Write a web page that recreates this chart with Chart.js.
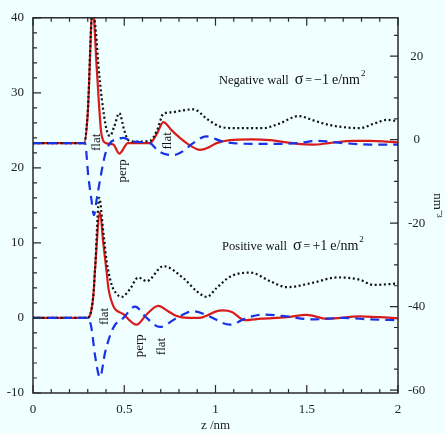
<!DOCTYPE html>
<html><head><meta charset="utf-8">
<script src="https://cdn.jsdelivr.net/npm/chart.js@4"></script>
<style>html,body{margin:0;padding:0;background:#f0ffff;}canvas{display:block}</style>
</head><body>
<canvas id="c" width="445" height="433"></canvas>
<script>
// ---- Negative wall (upper group, offset baseline) ----
const negRedX   = [0, 0.28, 0.30, 0.327, 0.35, 0.375, 0.40, 0.44, 0.473, 0.52, 0.64, 0.68, 0.714, 0.76, 0.805, 0.86, 0.915, 0.96, 1.006, 1.08, 1.2, 1.3, 1.39, 1.45, 1.536, 1.62, 1.755, 1.85, 1.94, 2.0];
const negRedY   = [23.3, 23.3, 27.2, 41.5, 33, 24.5, 23.3, 23.1, 21.9, 23.3, 23.3, 24.6, 26.1, 25.0, 24.0, 23.0, 22.4, 22.7, 23.3, 23.7, 23.8, 23.7, 23.4, 23.2, 23.1, 23.3, 23.6, 23.6, 23.5, 23.4];
const negBlueX  = [0, 0.285, 0.303, 0.32, 0.334, 0.349, 0.371, 0.395, 0.422, 0.46, 0.495, 0.55, 0.64, 0.685, 0.73, 0.768, 0.82, 0.877, 0.95, 1.04, 1.2, 1.35, 1.45, 1.56, 1.7, 1.85, 2.0];
const negBlueY  = [23.3, 23.3, 18.9, 15.8, 13.7, 15.8, 18.9, 21.75, 23.3, 23.8, 24.0, 23.5, 23.3, 22.3, 21.8, 21.7, 22.2, 23.3, 24.2, 23.5, 23.2, 23.2, 23.3, 23.6, 23.3, 23.1, 23.1];
const negBlackX = [0, 0.28, 0.30, 0.327, 0.345, 0.358, 0.376, 0.404, 0.422, 0.445, 0.473, 0.50, 0.522, 0.56, 0.64, 0.68, 0.714, 0.76, 0.805, 0.878, 0.96, 1.025, 1.1, 1.262, 1.35, 1.454, 1.54, 1.627, 1.79, 1.87, 1.94, 2.0];
const negBlackY = [23.3, 23.3, 27.5, 41.5, 38, 33.8, 29.4, 25.0, 24.25, 25.5, 27.3, 25.0, 23.7, 23.5, 23.6, 25.0, 27.2, 27.4, 27.6, 27.8, 26.4, 25.5, 25.3, 25.3, 25.9, 26.9, 26.3, 25.7, 25.3, 25.9, 26.4, 26.2];

// ---- Positive wall (lower group) ----
const posRedX   = [0, 0.298, 0.33, 0.34, 0.367, 0.385, 0.404, 0.413, 0.44, 0.495, 0.568, 0.623, 0.687, 0.74, 0.787, 0.85, 0.915, 0.96, 1.0, 1.04, 1.09, 1.16, 1.25, 1.39, 1.5, 1.61, 1.79, 1.9, 2.0];
const posRedY   = [0, 0, 2.8, 6.5, 14.1, 10, 6.0, 4.0, 1.6, 0.5, -0.9, 0.5, 1.6, 0.9, 0.25, 0, 0, 0.4, 0.85, 1.0, 0.8, -0.3, -0.1, 0.1, 0.4, -0.1, 0.2, 0.1, -0.05];
const posBlueX  = [0, 0.30, 0.32, 0.34, 0.367, 0.395, 0.44, 0.495, 0.559, 0.623, 0.696, 0.787, 0.878, 0.95, 1.08, 1.17, 1.26, 1.39, 1.53, 1.7, 1.85, 2.0];
const posBlueY  = [0, 0, -1.3, -5, -7.9, -4.6, -1.3, 0, 1.5, 0, -1.2, 0, 0.9, 0.4, -0.9, 0, 0.45, 0.2, -0.2, 0, -0.2, -0.3];
const posBlackX = [0, 0.298, 0.33, 0.34, 0.363, 0.385, 0.404, 0.43, 0.455, 0.486, 0.53, 0.577, 0.623, 0.714, 0.824, 0.9, 0.952, 1.006, 1.08, 1.19, 1.3, 1.39, 1.536, 1.664, 1.79, 1.865, 2.0];
const posBlackY = [0, 0, 2.8, 6.5, 16, 11.5, 7.5, 4.5, 3.3, 2.8, 3.8, 5.4, 4.9, 6.9, 5.3, 3.5, 2.8, 4.0, 5.5, 6.05, 4.9, 4.1, 4.7, 5.4, 5.1, 4.4, 4.6];

// ---- Ticks ----
const xTicks = [0, 0.5, 1, 1.5, 2];
const yLeftTicks = [-10, 0, 10, 20, 30, 40];
const yRightTicks = [-60, -40, -20, 0, 20];
const xMinorStep = 0.1, yLeftMinorStep = 2, yRightMinorStep = 5;

// ---- Text annotations ----
const rotLabels = [
  {text: 'flat', x: 0.349, y: 23.4},
  {text: 'perp', x: 0.493, y: 19.6},
  {text: 'flat', x: 0.737, y: 23.6},
  {text: 'flat', x: 0.390, y: 0.2},
  {text: 'perp', x: 0.586, y: -3.7},
  {text: 'flat', x: 0.702, y: -3.8}
];
const wallLabels = [
  {x: 1.019, y: 31.15, name: 'Negative wall', sign: '\u22121'},
  {x: 1.036, y: 8.99, name: 'Positive wall', sign: '+1'}
];

const pts = (xs, ys) => xs.map((v, i) => ({x: v, y: ys[i]}));
const RED = '#d81c1c', BLUE = '#1832e6', BLACK = '#111111';
const line = (xs, ys, color, dash, order) => ({
  data: pts(xs, ys), borderColor: color, borderWidth: 2.2, borderDash: dash,
  pointRadius: 0, showLine: true, fill: false, cubicInterpolationMode: 'monotone',
  yAxisID: 'y', order: order
});

const serif = '"Liberation Serif", "Times New Roman", serif';

const framePlugin = {
  id: 'frame',
  afterDraw(chart) {
    const {ctx, chartArea: {left, right, top, bottom}, scales: {x, y, y2}} = chart;
    ctx.save();
    ctx.strokeStyle = '#2a2a2a';
    ctx.lineWidth = 1.5;
    ctx.strokeRect(left, top, right - left, bottom - top);
    ctx.lineWidth = 1.2;
    ctx.beginPath();
    const nx = Math.round((x.max - x.min) / xMinorStep);
    for (let i = 0; i <= nx; i++) {
      const v = x.min + i * xMinorStep;
      const px = x.getPixelForValue(v);
      const len = (i % 5 === 0) ? 8 : 4;
      ctx.moveTo(px, bottom); ctx.lineTo(px, bottom - len);
      ctx.moveTo(px, top); ctx.lineTo(px, top + len);
    }
    for (let v = y.min; v <= y.max + 1e-9; v += yLeftMinorStep) {
      const py = y.getPixelForValue(v);
      const len = (Math.round(v) % 10 === 0) ? 8 : 4;
      ctx.moveTo(left, py); ctx.lineTo(left + len, py);
    }
    for (let v = -60; v <= y2.max; v += yRightMinorStep) {
      const py = y2.getPixelForValue(v);
      const len = (v % 20 === 0) ? 8 : 4;
      ctx.moveTo(right, py); ctx.lineTo(right - len, py);
    }
    ctx.stroke();
    ctx.restore();
  }
};

const labelPlugin = {
  id: 'labels',
  afterDatasetsDraw(chart) {
    const {ctx, scales: {x, y}} = chart;
    ctx.save();
    ctx.fillStyle = '#111';
    ctx.font = '13px ' + serif;
    ctx.textAlign = 'center';
    ctx.textBaseline = 'middle';
    for (const a of rotLabels) {
      ctx.save();
      ctx.translate(x.getPixelForValue(a.x), y.getPixelForValue(a.y));
      ctx.rotate(-Math.PI / 2);
      ctx.fillText(a.text, 0, 0);
      ctx.restore();
    }
    ctx.textAlign = 'left';
    ctx.textBaseline = 'alphabetic';
    for (const w of wallLabels) {
      let px = x.getPixelForValue(w.x);
      const py = y.getPixelForValue(w.y);
      const segs = [
        {t: w.name, f: 12.5, gap: 6},
        {t: '\u03c3', f: 16, gap: 2},
        {t: '=', f: 12, gap: 2},
        {t: w.sign, f: 14, gap: 3},
        {t: 'e/nm', f: 14, gap: 1},
        {t: '2', f: 9, gap: 0, dy: -8}
      ];
      for (const s of segs) {
        ctx.font = s.f + 'px ' + serif;
        ctx.fillText(s.t, px, py + (s.dy || 0));
        px += ctx.measureText(s.t).width + s.gap;
      }
    }
    ctx.restore();
  }
};

const tickFont = {family: serif, size: 13};
new Chart(document.getElementById('c'), {
  type: 'scatter',
  data: {
    datasets: [
      line(negRedX, negRedY, RED, [], 3),
      line(negBlackX, negBlackY, BLACK, [2, 2.6], 2),
      line(negBlueX, negBlueY, BLUE, [9, 6], 1),
      line(posRedX, posRedY, RED, [], 3),
      line(posBlackX, posBlackY, BLACK, [2, 2.6], 2),
      line(posBlueX, posBlueY, BLUE, [9, 6], 1)
    ]
  },
  options: {
    responsive: false,
    animation: false,
    devicePixelRatio: 1,
    layout: {padding: {top: 13, left: 0, right: 0, bottom: 0}},
    plugins: {legend: {display: false}, tooltip: {enabled: false}},
    scales: {
      x: {
        type: 'linear', min: 0, max: 2,
        grid: {display: false, drawTicks: false}, border: {display: false},
        ticks: {padding: 9, font: tickFont, color: '#222', maxRotation: 0, autoSkip: false, callback: v => String(v)},
        afterBuildTicks: s => { s.ticks = xTicks.map(v => ({value: v})); },
        title: {display: true, text: 'z /nm', font: tickFont, color: '#222', padding: {top: 0, bottom: 0}},
        afterFit: s => { s.height = 40; }
      },
      y: {
        type: 'linear', position: 'left', min: -10, max: 40,
        grid: {display: false, drawTicks: false}, border: {display: false},
        ticks: {padding: 9, font: tickFont, color: '#222', callback: v => String(v)},
        afterBuildTicks: s => { s.ticks = yLeftTicks.map(v => ({value: v})); },
        afterFit: s => { s.width = 33; }
      },
      y2: {
        type: 'linear', position: 'right', min: -60.7, max: 29.2,
        grid: {display: false, drawTicks: false}, border: {display: false},
        ticks: {padding: 10, font: tickFont, color: '#222', crossAlign: 'center', callback: v => String(v)},
        afterBuildTicks: s => { s.ticks = yRightTicks.map(v => ({value: v})); },
        title: {display: true, text: 'nm\u207b\u00b3', font: tickFont, color: '#222', padding: {top: 0, bottom: 0}},
        afterFit: s => { s.width = 47; }
      }
    }
  },
  plugins: [framePlugin, labelPlugin]
});
</script>
</body></html>
